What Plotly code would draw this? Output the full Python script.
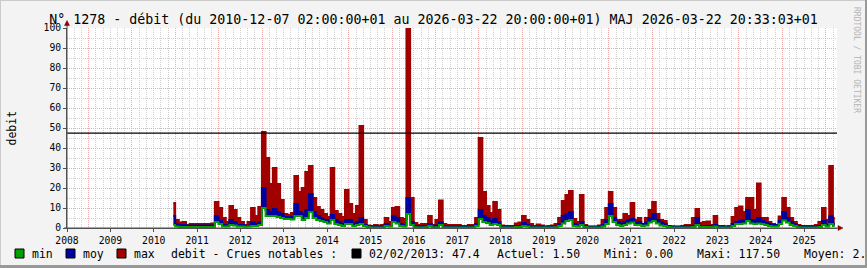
import pandas as pd
import plotly.graph_objects as go

# ---------------- data (monthly values) ----------------
START_MONTH = "2010-06-01"

max_2010 = [12.5, 4, 2.7, 3, 1.5, 2, 2]
max_2011 = [2, 2, 2, 2, 2.3, 13, 10, 5, 3, 11, 9, 5]
max_2012 = [3, 1.5, 3, 10, 6, 10.5, 48, 35, 22, 30, 22, 14]
max_2013 = [7, 6.5, 7.5, 26, 18, 20, 28, 31, 15, 10.5, 9, 7]
max_2014 = [5.5, 30, 8.5, 7, 5.5, 19, 12, 7, 11, 51, 4, 1.2]
max_2015 = [1, 1.5, 1.2, 1.5, 5, 3, 10, 10.5, 5, 4.5, 117.5, 15]
max_2016 = [2.5, 1.5, 2, 2, 6, 1.5, 4, 13.7, 2, 1.5, 1.5, 1.5]
max_2017 = [1.5, 1, 1, 1.5, 1.5, 5, 45, 18, 11, 7.5, 13, 9]
max_2018 = [1.2, 1, 1, 1, 2.2, 2.7, 6, 4, 2, 1, 1.8, 1.2]
max_2019 = [0.8, 1, 1.2, 2, 5, 13.5, 16.5, 18.5, 4.5, 3, 16.5, 1.5]
max_2020 = [0.8, 0.8, 0.8, 1.2, 4, 10, 18, 10, 4, 4, 7, 6]
max_2021 = [12.5, 4, 5, 2, 5, 9, 13, 7, 4, 3.5, 1, 0.7]
max_2022 = [0.7, 0.7, 1, 1.5, 1.5, 5, 9.5, 2.5, 3, 3.2, 1.5, 6]
max_2023 = [1, 1, 0.7, 1, 5.5, 10, 10.7, 8, 15, 15, 9, 22.3]
max_2024 = [5, 5, 3, 2, 1.5, 5.7, 15, 10, 5, 3, 1.5, 1]
max_2025 = [1, 1, 1, 1.5, 3, 10, 4, 31, 5]

moy_2010 = [6, 1.8, 1.5, 1.5, 1, 1.2, 1.2]
moy_2011 = [1.2, 1.2, 1.2, 1.2, 1.3, 6, 3.5, 1.5, 1.3, 4, 3, 1.5]
moy_2012 = [1.5, 1, 1.3, 3, 2, 3, 20, 9, 8, 9.5, 8, 7]
moy_2013 = [5.5, 5.5, 5.5, 12, 8, 7, 9, 17, 8, 6, 5, 4]
moy_2014 = [4, 6.5, 4, 3, 2, 4, 4, 2.3, 3, 5, 1.5, 0.8]
moy_2015 = [0.7, 0.8, 0.7, 0.8, 2, 1, 5.7, 5, 2, 1.5, 15, 3]
moy_2016 = [1, 0.8, 1, 1, 2, 0.8, 1.2, 3, 0.8, 0.7, 0.7, 0.7]
moy_2017 = [0.7, 0.6, 0.6, 0.7, 0.8, 2, 9, 6, 5, 3.5, 4.5, 3]
moy_2018 = [0.8, 0.7, 0.7, 0.7, 1, 1, 2.5, 1.5, 0.8, 0.6, 0.8, 0.7]
moy_2019 = [0.6, 0.6, 0.7, 0.9, 2, 6, 7, 8, 2, 1.5, 3, 1]
moy_2020 = [0.6, 0.6, 0.6, 0.7, 1.5, 4, 12, 5, 3, 2.3, 3, 4]
moy_2021 = [4.5, 2.7, 3, 2, 2.7, 5, 7, 4, 2.7, 2, 1, 0.7]
moy_2022 = [0.6, 0.6, 0.6, 0.7, 0.7, 1, 5, 1, 1, 1, 0.8, 1.5]
moy_2023 = [0.7, 0.7, 0.6, 0.7, 2, 3, 3.5, 4, 9, 4, 4, 5]
moy_2024 = [3.5, 2.7, 2, 1.5, 1.5, 3.5, 8, 5, 3, 2, 1, 0.8]
moy_2025 = [0.7, 0.7, 0.7, 0.8, 1, 3.5, 1.5, 5.7, 2.3]

min_2010 = [1.5, 0.7, 0.5, 0.5, 0.5, 0.5, 0.5]
min_2011 = [0.5, 0.5, 0.5, 0.5, 0.5, 3, 2, 0.8, 0.7, 1.5, 1.2, 0.8]
min_2012 = [0.8, 0.6, 0.7, 1, 1, 1.5, 10, 6, 6, 6, 5.5, 5]
min_2013 = [4.5, 4.5, 4.3, 6, 6, 4, 5, 8, 5, 4, 3.5, 3]
min_2014 = [2.3, 4, 2, 1.5, 1, 2, 2, 1, 1.5, 2, 1, 0.4]
min_2015 = [0.3, 0.3, 0.3, 0.3, 1, 0.7, 3, 2.3, 1, 0.7, 7, 1.5]
min_2016 = [0.4, 0.3, 0.3, 0.4, 1, 0.3, 0.4, 1.5, 0.3, 0.3, 0.3, 0.3]
min_2017 = [0.3, 0.3, 0.3, 0.3, 0.3, 1, 4.5, 3, 2.5, 1.5, 2, 1.5]
min_2018 = [0.3, 0.3, 0.3, 0.3, 0.5, 0.5, 1, 0.7, 0.3, 0.3, 0.3, 0.3]
min_2019 = [0.3, 0.3, 0.3, 0.4, 1, 2.3, 3.5, 4, 1, 0.7, 1.5, 0.5]
min_2020 = [0.3, 0.3, 0.3, 0.3, 0.7, 2, 6, 3, 1.5, 1, 1.5, 2.3]
min_2021 = [2.7, 1.5, 1.5, 1, 1.3, 2.7, 3.5, 2.3, 1.3, 1, 0.5, 0.3]
min_2022 = [0.3, 0.3, 0.3, 0.3, 0.3, 0.5, 1.5, 0.5, 0.5, 0.5, 0.4, 0.7]
min_2023 = [0.3, 0.3, 0.3, 0.3, 1, 2, 2, 2.3, 3.5, 2.3, 2, 2.3]
min_2024 = [2, 1.5, 1, 0.7, 0.7, 2, 3.7, 2.7, 1.5, 1, 0.4, 0.3]
min_2025 = [0.3, 0.3, 0.3, 0.3, 0.5, 1.5, 0.7, 2, 1]

max_vals = (max_2010 + max_2011 + max_2012 + max_2013 + max_2014 + max_2015 + max_2016
            + max_2017 + max_2018 + max_2019 + max_2020 + max_2021 + max_2022 + max_2023
            + max_2024 + max_2025)
moy_vals = (moy_2010 + moy_2011 + moy_2012 + moy_2013 + moy_2014 + moy_2015 + moy_2016
            + moy_2017 + moy_2018 + moy_2019 + moy_2020 + moy_2021 + moy_2022 + moy_2023
            + moy_2024 + moy_2025)
min_vals = (min_2010 + min_2011 + min_2012 + min_2013 + min_2014 + min_2015 + min_2016
            + min_2017 + min_2018 + min_2019 + min_2020 + min_2021 + min_2022 + min_2023
            + min_2024 + min_2025)

crue_label = "02/02/2013"
crue_value = 47.4
actuel = "1.50"
mini = "0.00"
maxi = "117.50"
moyen = "2.85"

x_range = ["2008-01-01", "2025-10-04"]
y_ticks = list(range(0, 101, 10))

title_text = ("N° 1278 - débit (du 2010-12-07 02:00:00+01 au 2026-03-22 20:00:00+01) "
              "MAJ 2026-03-22 20:33:03+01")

# ---------------- styling ----------------
W, H = 867, 268
L, R, T, B = 67, 30, 28, 40
PW, PH = W - L - R, H - T - B
FONT = "DejaVu Sans Mono"
C_MAX, C_MOY, C_MIN = "#a00000", "#0000a0", "#00a000"
GRID = "#cfcfcf"
MGRID = "#eeaaaa"
AXIS = "#505050"
ARROW = "#8b0000"


def px(x):
    return (x - L) / PW


def py(y):
    return 1 - (y - T) / PH


assert len(max_vals) == len(moy_vals) == len(min_vals)
dates = pd.date_range(START_MONTH, periods=len(max_vals), freq="MS") + pd.Timedelta(days=14)

fig = go.Figure()
common = dict(x=dates, mode="lines", hoverinfo="skip", showlegend=False, line_shape="hvh")
# fills (dense-trace look)
fig.add_trace(go.Scatter(y=min_vals, line=dict(width=0, color=C_MIN), **common))
fig.add_trace(go.Scatter(y=moy_vals, fill="tonexty", fillcolor=C_MOY,
                         line=dict(width=0, color=C_MOY), **common))
fig.add_trace(go.Scatter(y=max_vals, fill="tonexty", fillcolor=C_MAX,
                         line=dict(width=0, color=C_MAX), **common))
# lines
fig.add_trace(go.Scatter(y=max_vals, line=dict(width=2, color=C_MAX), **common))
fig.add_trace(go.Scatter(y=moy_vals, line=dict(width=2, color=C_MOY), **common))
fig.add_trace(go.Scatter(y=min_vals, line=dict(width=2, color=C_MIN), **common))
# notable flood rule (on the labelled overlay axis)
fig.add_trace(go.Scatter(x=x_range, y=[crue_value, crue_value], mode="lines", xaxis="x2",
                         line=dict(color="#000000", width=1.2), hoverinfo="skip",
                         showlegend=False))

fig.update_layout(
    width=W, height=H, autosize=False,
    margin=dict(l=L, r=R, t=T, b=B, pad=0),
    paper_bgcolor="#f3f3f3", plot_bgcolor="#ffffff",
    font=dict(family=FONT, size=10, color="#000000"),
    title=dict(text=title_text, x=0.5, xref="container", xanchor="center",
               y=1 - 19 / H, yref="container", yanchor="middle",
               font=dict(family=FONT, size=13.3, color="#000000")),
    xaxis=dict(type="date", range=x_range, tick0="2008-07-01", dtick="M12",
               showticklabels=False, ticks="", showgrid=True, gridcolor=MGRID,
               griddash="1px,1px", gridwidth=1, zeroline=False,
               showline=True, linecolor=AXIS, linewidth=1,
               minor=dict(dtick="M2", tick0="2008-01-01", showgrid=True,
                          gridcolor=GRID, griddash="1px,1px", gridwidth=1)),
    xaxis2=dict(type="date", range=x_range, overlaying="x", anchor="y", side="bottom",
                tick0="2008-01-01", dtick="M12", tickformat="%Y",
                ticks="outside", ticklen=3, tickcolor=AXIS, showgrid=False,
                zeroline=False, showline=False,
                tickfont=dict(family=FONT, size=9.7, color="#000000")),
    yaxis=dict(range=[0, 100], tickvals=y_ticks, ticks="outside", ticklen=3,
               tickcolor=AXIS, showgrid=True, gridcolor=MGRID, griddash="1px,1px",
               gridwidth=1, zeroline=False, showline=True, linecolor=AXIS, linewidth=1,
               tickfont=dict(family=FONT, size=9.7, color="#000000"),
               minor=dict(dtick=5, showgrid=True, gridcolor=GRID,
                          griddash="1px,1px", gridwidth=1)),
)

shapes = []
# arrows at axis ends
shapes.append(dict(type="line", xref="paper", yref="paper", x0=px(67), x1=px(67),
                   y0=py(228), y1=py(24), line=dict(color=AXIS, width=1)))
shapes.append(dict(type="path", xref="paper", yref="paper",
                   path=f"M {px(64.5)} {py(25.5)} L {px(69.5)} {py(25.5)} L {px(67)} {py(20.5)} Z",
                   fillcolor=ARROW, line=dict(color=ARROW, width=0.5)))
shapes.append(dict(type="line", xref="paper", yref="paper", x0=px(64), x1=px(839),
                   y0=py(228), y1=py(228), line=dict(color=AXIS, width=1)))
shapes.append(dict(type="path", xref="paper", yref="paper",
                   path=f"M {px(838)} {py(225.5)} L {px(838)} {py(230.5)} L {px(843)} {py(228)} Z",
                   fillcolor=ARROW, line=dict(color=ARROW, width=0.5)))
# legend squares
for x0, col in [(15, C_MIN), (66, C_MOY), (117, C_MAX), (352, "#000000")]:
    shapes.append(dict(type="rect", xref="paper", yref="paper",
                       x0=px(x0), x1=px(x0 + 9), y0=py(258), y1=py(249),
                       fillcolor=col, line=dict(color="#000000", width=1)))
# 3D frame of the image
shapes.append(dict(type="line", xref="paper", yref="paper", x0=px(0), x1=px(W),
                   y0=py(0.5), y1=py(0.5), line=dict(color="#cbcbcb", width=1)))
shapes.append(dict(type="line", xref="paper", yref="paper", x0=px(0.5), x1=px(0.5),
                   y0=py(0), y1=py(H), line=dict(color="#cbcbcb", width=1)))
shapes.append(dict(type="line", xref="paper", yref="paper", x0=px(0), x1=px(W),
                   y0=py(H - 1.5), y1=py(H - 1.5), line=dict(color="#999999", width=3)))
shapes.append(dict(type="line", xref="paper", yref="paper", x0=px(W - 1), x1=px(W - 1),
                   y0=py(0), y1=py(H), line=dict(color="#999999", width=2)))
fig.update_layout(shapes=shapes)

ann = []
LEG_Y = py(253.5)
LEG_FONT = dict(family=FONT, size=11.5, color="#000000")
for xpix, txt in [(30, "min"), (81, "moy"), (131.7, "max"),
                  (169.3, "debit - Crues notables :"),
                  (366.7, f"{crue_label}: {crue_value}"),
                  (495, f"Actuel: {actuel}"), (601.7, f"Mini: {mini}"),
                  (695, f"Maxi: {maxi}"), (801.7, f"Moyen: {moyen}")]:
    ann.append(dict(text=txt, xref="paper", yref="paper", x=px(xpix), y=LEG_Y,
                    xanchor="left", yanchor="middle", showarrow=False, font=LEG_FONT))
ann.append(dict(text="debit", xref="paper", yref="paper", x=px(11.5), y=py(128),
                textangle=-90, xanchor="center", yanchor="middle", showarrow=False,
                font=dict(family=FONT, size=11.5, color="#000000")))
ann.append(dict(text="RRDTOOL / TOBI OETIKER", xref="paper", yref="paper", x=px(857),
                y=py(60), textangle=90, xanchor="center", yanchor="middle",
                showarrow=False, font=dict(family=FONT, size=8, color="#b4b4b4")))
fig.update_layout(annotations=ann)

fig.write_html("out.html")
